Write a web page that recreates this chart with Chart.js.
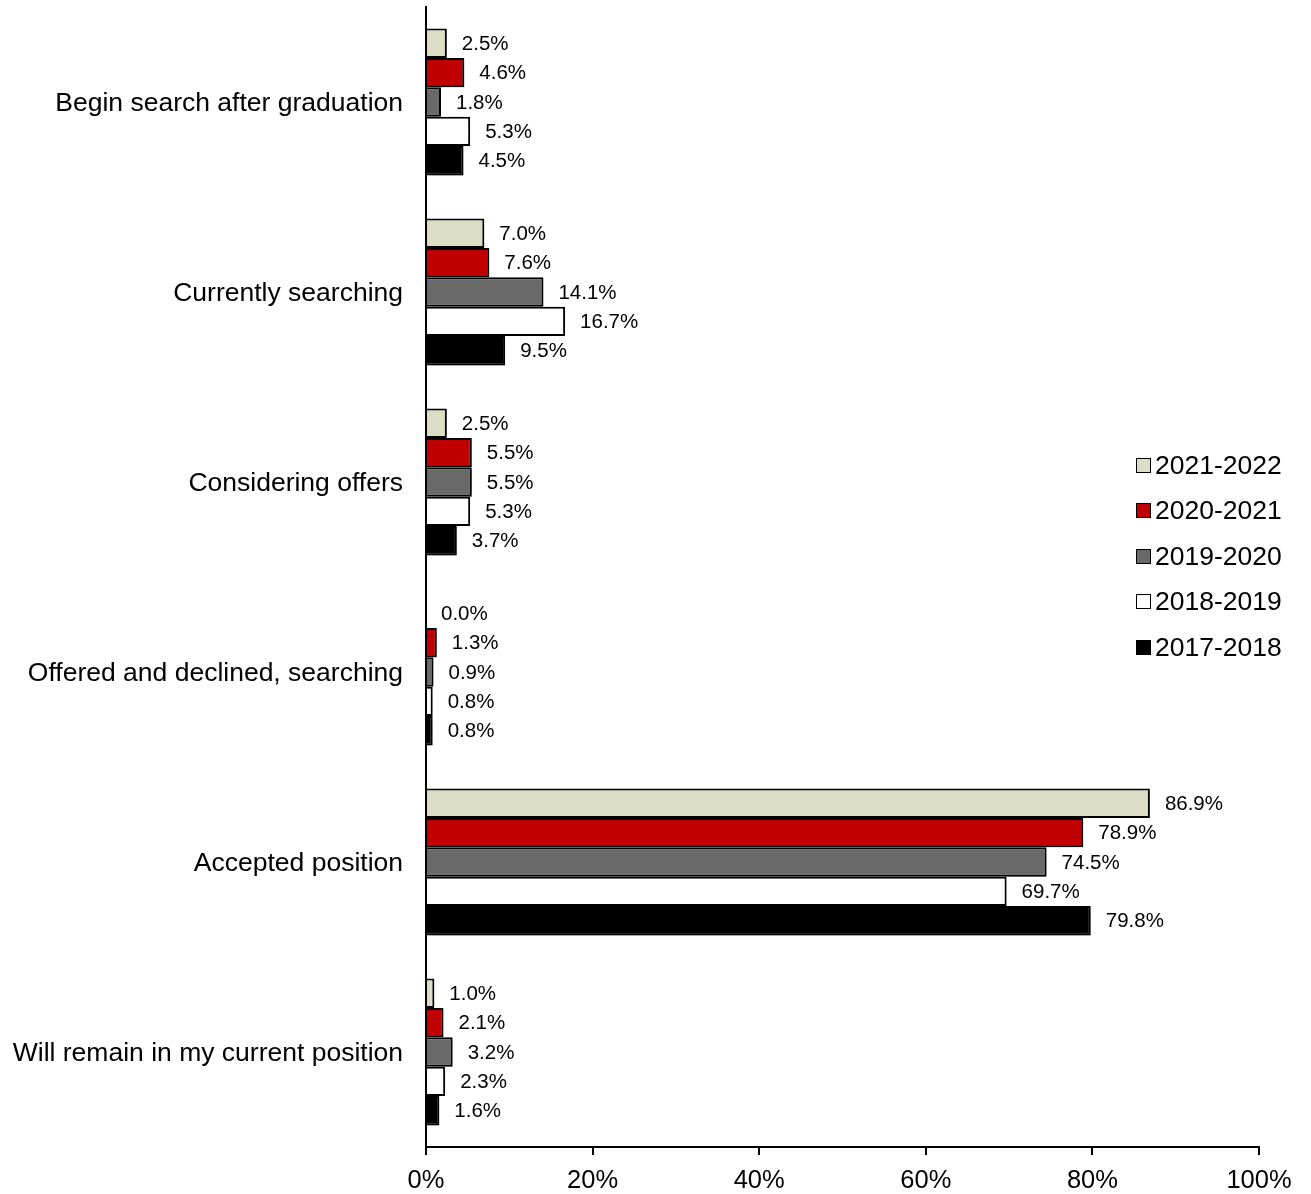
<!DOCTYPE html>
<html>
<head>
<meta charset="utf-8">
<script src="https://cdn.jsdelivr.net/npm/chart.js@4/dist/chart.umd.min.js"></script>
<style>
  html, body { margin: 0; padding: 0; background: #fff; }
  #wrap { position: relative; width: 1311px; height: 1194px; }
  #legend { position: absolute; left: 1136px; top: 442px; font-family: "Liberation Sans", Arial, sans-serif; font-size: 26.5px; color: #000; }
  #legend .item { height: 45.5px; display: flex; align-items: center; }
  #legend .item span.t { line-height: 30px; }
  #legend .box { width: 15px; height: 15px; border: 1.5px solid #000; margin-right: 4px; box-sizing: border-box; margin-top: 1px; }
</style>
</head>
<body>
<div id="wrap">
  <canvas id="chart" width="1311" height="1194"></canvas>
  <div id="legend"></div>
</div>
<script>
const categories = [
  'Begin search after graduation',
  'Currently searching',
  'Considering offers',
  'Offered and declined, searching',
  'Accepted position',
  'Will remain in my current position'
];
const seriesNames = ['2021-2022', '2020-2021', '2019-2020', '2018-2019', '2017-2018'];
const s2021_2022 = [2.5, 7.0, 2.5, 0.0, 86.9, 1.0];
const s2020_2021 = [4.6, 7.6, 5.5, 1.3, 78.9, 2.1];
const s2019_2020 = [1.8, 14.1, 5.5, 0.9, 74.5, 3.2];
const s2018_2019 = [5.3, 16.7, 5.3, 0.8, 69.7, 2.3];
const s2017_2018 = [4.5, 9.5, 3.7, 0.8, 79.8, 1.6];
const xTicks = [0, 20, 40, 60, 80, 100];

const seriesValues = [s2021_2022, s2020_2021, s2019_2020, s2018_2019, s2017_2018];
const colors = ['#DDDDC6', '#C00000', '#696969', '#FFFFFF', '#000000'];
const FONT = '"Liberation Sans", Arial, sans-serif';

const barLabels = {
  id: 'barLabels',
  afterDatasetsDraw(chart) {
    const ctx = chart.ctx;
    ctx.save();
    ctx.font = '20.5px ' + FONT;
    ctx.fillStyle = '#000';
    ctx.textBaseline = 'middle';
    ctx.textAlign = 'left';
    chart.data.datasets.forEach((ds, i) => {
      const meta = chart.getDatasetMeta(i);
      meta.data.forEach((bar, j) => {
        ctx.fillText(ds.data[j].toFixed(1) + '%', bar.x + 15, bar.y + 1);
      });
    });
    ctx.restore();
  }
};

const barShadow = {
  id: 'barShadow',
  beforeDatasetsDraw(chart) {
    const ctx = chart.ctx;
    ctx.save();
    ctx.shadowColor = 'rgba(0,0,0,0.25)';
    ctx.shadowBlur = 4;
    ctx.shadowOffsetX = 2;
    ctx.shadowOffsetY = 2;
  },
  afterDatasetsDraw(chart) {
    chart.ctx.restore();
  }
};

new Chart(document.getElementById('chart'), {
  type: 'bar',
  data: {
    labels: categories,
    datasets: seriesNames.map((name, i) => ({
      label: name,
      data: seriesValues[i],
      backgroundColor: colors[i],
      borderColor: '#000',
      borderWidth: 2,
      borderSkipped: 'left',
      categoryPercentage: 0.774,
      barPercentage: 1.0
    }))
  },
  options: {
    indexAxis: 'y',
    responsive: false,
    animation: false,
    layout: { padding: { left: 0, right: 52, top: 7, bottom: 0 } },
    plugins: {
      legend: { display: false },
      tooltip: { enabled: false }
    },
    scales: {
      x: {
        min: 0,
        max: 100,
        afterBuildTicks(scale) { scale.ticks = xTicks.map(v => ({ value: v })); },
        afterFit(scale) { scale.height = 47; scale.paddingLeft = 0; scale.paddingRight = 0; },
        ticks: {
          callback: v => v + '%',
          color: '#000',
          font: { family: FONT, size: 25.5 },
          padding: 11,
          maxRotation: 0
        },
        grid: { drawOnChartArea: false, drawTicks: true, tickLength: 8, color: '#000', lineWidth: 2 },
        border: { display: true, color: '#000', width: 2 }
      },
      y: {
        afterFit(scale) { scale.width = 426; scale.paddingTop = 0; scale.paddingBottom = 0; },
        ticks: {
          color: '#000',
          font: { family: FONT, size: 26.5 },
          padding: 23,
          labelOffset: 2
        },
        grid: { display: false, drawTicks: false },
        border: { display: true, color: '#000', width: 2 }
      }
    }
  },
  plugins: [barShadow, barLabels]
});

const legend = document.getElementById('legend');
seriesNames.forEach((name, i) => {
  const item = document.createElement('div');
  item.className = 'item';
  item.innerHTML = '<span class="box" style="background:' + colors[i] + '"></span><span class="t">' + name + '</span>';
  legend.appendChild(item);
});
</script>
</body>
</html>
